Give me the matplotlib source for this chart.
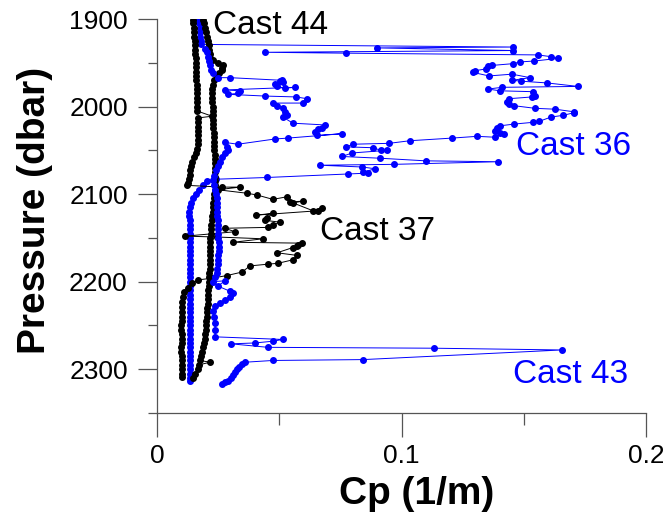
import matplotlib
matplotlib.use("Agg")
import matplotlib.pyplot as plt

plt.rcParams['font.family'] = ['Liberation Sans', 'DejaVu Sans']

# Cp (1/m), pressure (dbar) pairs
cast36 = [
    (0.0172, 1901), (0.0172, 1905), (0.0174, 1910), (0.0176, 1915), (0.0176, 1920),
    (0.0178, 1925), (0.0180, 1929), (0.1456, 1932), (0.0900, 1933), (0.1456, 1936),
    (0.0442, 1938), (0.0773, 1939), (0.1558, 1941), (0.1611, 1943), (0.1640, 1945),
    (0.1542, 1948), (0.1485, 1949), (0.1456, 1951), (0.1370, 1953), (0.1354, 1954),
    (0.1346, 1957), (0.1301, 1959), (0.1292, 1961), (0.1358, 1965), (0.1452, 1963),
    (0.1526, 1967), (0.1452, 1970), (0.1489, 1971), (0.1595, 1973), (0.1722, 1977),
    (0.1411, 1978), (0.1354, 1980), (0.1403, 1982), (0.1538, 1983), (0.1546, 1988),
    (0.1534, 1989), (0.1440, 1991), (0.1431, 1995), (0.1440, 1997), (0.1460, 1999),
    (0.1546, 2002), (0.1628, 2003), (0.1706, 2006), (0.1706, 2007), (0.1661, 2010),
    (0.1611, 2012), (0.1562, 2017), (0.1538, 2018), (0.1460, 2020), (0.1403, 2022),
    (0.1391, 2025), (0.1382, 2028), (0.1403, 2030), (0.1419, 2031), (0.1382, 2035),
    (0.1309, 2034), (0.1207, 2036), (0.1035, 2039), (0.0949, 2042), (0.0802, 2043),
    (0.0773, 2046), (0.0883, 2047), (0.0916, 2050), (0.0941, 2050), (0.0798, 2053),
    (0.0757, 2057), (0.0912, 2059), (0.1100, 2062), (0.1395, 2063), (0.0969, 2066),
    (0.0667, 2067), (0.0838, 2069), (0.0892, 2071), (0.0843, 2075), (0.0863, 2076),
    (0.0781, 2077), (0.0450, 2081), (0.0241, 2083), (0.0204, 2085), (0.0188, 2090),
    (0.0172, 2095), (0.0160, 2100), (0.0147, 2105), (0.0139, 2110), (0.0135, 2115),
    (0.0131, 2120), (0.0131, 2125), (0.0133, 2130), (0.0133, 2135), (0.0135, 2140),
    (0.0135, 2145), (0.0133, 2150), (0.0133, 2155), (0.0135, 2160), (0.0135, 2165),
    (0.0133, 2170), (0.0133, 2175), (0.0135, 2180), (0.0135, 2185), (0.0137, 2190),
    (0.0135, 2195), (0.0135, 2200), (0.0133, 2205), (0.0133, 2210), (0.0135, 2215),
    (0.0135, 2220), (0.0133, 2225), (0.0133, 2230), (0.0135, 2235), (0.0135, 2240),
    (0.0137, 2245), (0.0135, 2250), (0.0135, 2255), (0.0133, 2260), (0.0133, 2265),
    (0.0135, 2270), (0.0135, 2275), (0.0135, 2280), (0.0133, 2285), (0.0133, 2290),
    (0.0135, 2295), (0.0135, 2300), (0.0135, 2305), (0.0135, 2310), (0.0135, 2313),
]

cast43 = [
    (0.0196, 1934), (0.0204, 1938), (0.0209, 1943), (0.0213, 1948), (0.0217, 1953),
    (0.0221, 1958), (0.0229, 1962), (0.0249, 1967), (0.0299, 1967), (0.0511, 1970),
    (0.0503, 1971), (0.0515, 1972), (0.0483, 1974), (0.0491, 1977), (0.0524, 1979),
    (0.0564, 1978), (0.0278, 1981), (0.0339, 1982), (0.0331, 1985), (0.0290, 1986),
    (0.0442, 1988), (0.0569, 1989), (0.0613, 1991), (0.0597, 1996), (0.0474, 1996),
    (0.0491, 1999), (0.0515, 2002), (0.0524, 2006), (0.0532, 2010), (0.0515, 2012),
    (0.0556, 2019), (0.0687, 2021), (0.0675, 2025), (0.0658, 2026), (0.0646, 2029),
    (0.0654, 2033), (0.0757, 2031), (0.0536, 2036), (0.0483, 2037), (0.0331, 2043),
    (0.0278, 2041), (0.0286, 2046), (0.0290, 2050), (0.0278, 2053), (0.0266, 2058),
    (0.0258, 2063), (0.0249, 2068), (0.0241, 2073), (0.0233, 2079), (0.0229, 2084),
    (0.0233, 2090), (0.0237, 2095), (0.0241, 2100), (0.0245, 2105), (0.0245, 2110),
    (0.0245, 2115), (0.0247, 2120), (0.0247, 2125), (0.0249, 2130), (0.0249, 2135),
    (0.0249, 2140), (0.0251, 2145), (0.0251, 2150), (0.0253, 2155), (0.0253, 2160),
    (0.0253, 2165), (0.0251, 2170), (0.0251, 2175), (0.0249, 2180), (0.0247, 2185),
    (0.0245, 2190), (0.0237, 2195), (0.0229, 2200), (0.0278, 2199), (0.0249, 2205),
    (0.0299, 2211), (0.0311, 2213), (0.0299, 2217), (0.0278, 2221), (0.0258, 2224),
    (0.0237, 2228), (0.0229, 2234), (0.0233, 2240), (0.0237, 2247), (0.0237, 2255),
    (0.0237, 2263), (0.0515, 2266), (0.0474, 2268), (0.0401, 2270), (0.0303, 2271),
    (0.0454, 2275), (0.1133, 2276), (0.1656, 2278), (0.0843, 2289), (0.0474, 2290),
    (0.0360, 2292), (0.0348, 2294), (0.0335, 2297), (0.0327, 2300), (0.0319, 2303),
    (0.0311, 2307), (0.0303, 2310), (0.0290, 2313), (0.0278, 2315), (0.0266, 2317),
]

cast44 = [
    (0.0188, 1901), (0.0192, 1905), (0.0196, 1910), (0.0200, 1915), (0.0204, 1920),
    (0.0209, 1925), (0.0211, 1930), (0.0213, 1935), (0.0215, 1940), (0.0217, 1945),
    (0.0229, 1947), (0.0250, 1950), (0.0270, 1953), (0.0266, 1956), (0.0266, 1958),
    (0.0254, 1962), (0.0245, 1966), (0.0233, 1970), (0.0229, 1975), (0.0225, 1980),
    (0.0225, 1985), (0.0225, 1990), (0.0225, 1995), (0.0227, 2000), (0.0229, 2005),
    (0.0229, 2010), (0.0229, 2015), (0.0231, 2020), (0.0231, 2025), (0.0233, 2030),
    (0.0233, 2035), (0.0233, 2040), (0.0235, 2045), (0.0235, 2050), (0.0237, 2055),
    (0.0237, 2060), (0.0237, 2065), (0.0237, 2070), (0.0237, 2075), (0.0237, 2080),
    (0.0237, 2085), (0.0237, 2090), (0.0237, 2095), (0.0235, 2100), (0.0233, 2105),
    (0.0231, 2110), (0.0229, 2115), (0.0227, 2120), (0.0225, 2125), (0.0223, 2130),
    (0.0221, 2135), (0.0221, 2140), (0.0219, 2145), (0.0217, 2150), (0.0217, 2155),
    (0.0217, 2160), (0.0217, 2165), (0.0217, 2170), (0.0217, 2175), (0.0215, 2180),
    (0.0215, 2185), (0.0213, 2190), (0.0213, 2195), (0.0211, 2200), (0.0211, 2205),
    (0.0209, 2210), (0.0209, 2215), (0.0207, 2220), (0.0207, 2225), (0.0205, 2230),
    (0.0204, 2235), (0.0203, 2240), (0.0202, 2245), (0.0200, 2250), (0.0199, 2255),
    (0.0197, 2260), (0.0196, 2265), (0.0194, 2270), (0.0190, 2275), (0.0186, 2280),
    (0.0180, 2285), (0.0176, 2290), (0.0217, 2292), (0.0172, 2295), (0.0166, 2300),
    (0.0156, 2305), (0.0147, 2310),
]

cast37 = [
    (0.0147, 1901), (0.0147, 1905), (0.0151, 1910), (0.0151, 1915), (0.0151, 1920),
    (0.0155, 1925), (0.0155, 1930), (0.0155, 1935), (0.0155, 1940), (0.0158, 1945),
    (0.0160, 1950), (0.0160, 1955), (0.0160, 1960), (0.0160, 1965), (0.0160, 1970),
    (0.0162, 1975), (0.0162, 1980), (0.0164, 1985), (0.0164, 1990), (0.0164, 1995),
    (0.0164, 2000), (0.0164, 2005), (0.0225, 2011), (0.0168, 2013), (0.0168, 2018),
    (0.0168, 2023), (0.0168, 2028), (0.0168, 2033), (0.0168, 2038), (0.0166, 2043),
    (0.0162, 2048), (0.0158, 2053), (0.0151, 2058), (0.0145, 2063), (0.0141, 2068),
    (0.0137, 2073), (0.0133, 2078), (0.0129, 2083), (0.0125, 2087), (0.0123, 2090),
    (0.0266, 2092), (0.0339, 2092), (0.0249, 2095), (0.0368, 2099), (0.0409, 2101),
    (0.0474, 2106), (0.0532, 2103), (0.0544, 2109), (0.0597, 2108), (0.0556, 2110),
    (0.0638, 2119), (0.0675, 2116), (0.0658, 2119), (0.0405, 2124), (0.0474, 2122),
    (0.0450, 2127), (0.0442, 2130), (0.0503, 2132), (0.0474, 2135), (0.0454, 2138),
    (0.0278, 2139), (0.0319, 2143), (0.0115, 2148), (0.0245, 2149), (0.0434, 2151),
    (0.0311, 2155), (0.0593, 2156), (0.0577, 2158), (0.0573, 2159), (0.0556, 2161),
    (0.0491, 2167), (0.0573, 2170), (0.0556, 2175), (0.0495, 2179), (0.0454, 2180),
    (0.0380, 2182), (0.0348, 2189), (0.0286, 2193), (0.0225, 2196), (0.0168, 2198),
    (0.0143, 2202), (0.0127, 2207), (0.0110, 2212), (0.0106, 2218), (0.0104, 2223),
    (0.0102, 2229), (0.0102, 2235), (0.0102, 2240), (0.0102, 2245), (0.0100, 2250),
    (0.0100, 2255), (0.0102, 2260), (0.0102, 2265), (0.0102, 2270), (0.0100, 2275),
    (0.0100, 2280), (0.0102, 2285), (0.0102, 2290), (0.0102, 2295), (0.0102, 2300),
    (0.0102, 2305), (0.0102, 2309),
]

casts = [("Cast 36", cast36, "#0000ff"), ("Cast 37", cast37, "black"),
         ("Cast 44", cast44, "black"), ("Cast 43", cast43, "#0000ff")]

fig = plt.figure(figsize=(6.63, 5.14), dpi=100)
ax = fig.add_axes([0.2368, 0.1965, 0.7376, 0.7665])

for name, data, col in casts:
    cp, p = zip(*data)
    ax.plot(cp, p, '-o', color=col, lw=0.7, ms=4, mec=col, mfc=col)

# cast labels
ax.text(0.0229, 1907, "Cast 44", color="black", fontsize=24, va="center")
ax.text(0.1468, 2046, "Cast 36", color="#0000ff", fontsize=24, va="center")
ax.text(0.0667, 2143, "Cast 37", color="black", fontsize=24, va="center")
ax.text(0.1456, 2306, "Cast 43", color="#0000ff", fontsize=24, va="center")

ax.set_xlim(0, 0.2)
ax.set_ylim(2350, 1900)
ax.set_xticks([0, 0.1, 0.2])
ax.set_xticklabels(["0", "0.1", "0.2"])
ax.set_xticks([0.05, 0.15], minor=True)
ax.set_yticks([1900, 2000, 2100, 2200, 2300])
ax.set_yticks([1950, 2050, 2150, 2250, 2350], minor=True)

for s in ["top", "right"]:
    ax.spines[s].set_visible(False)
for s in ["left", "bottom"]:
    ax.spines[s].set_color("#555555")
    ax.spines[s].set_linewidth(0.9)

ax.tick_params(axis="y", which="major", length=14, width=0.9, color="#555555",
               labelsize=19, pad=7)
ax.tick_params(axis="y", which="minor", length=6.5, width=0.9, color="#555555")
ax.tick_params(axis="x", which="major", length=17, width=0.9, color="#555555",
               labelsize=19, pad=5)
ax.tick_params(axis="x", which="minor", length=8.5, width=0.9, color="#555555")

ax.set_xlabel("Cp (1/m)", fontsize=28, fontweight="bold")
ax.set_ylabel("Pressure (dbar)", fontsize=28, fontweight="bold")
ax.xaxis.set_label_coords(0.53, -0.16)
ax.yaxis.set_label_coords(-0.213, 0.513)

fig.savefig("out.png", dpi=100)
